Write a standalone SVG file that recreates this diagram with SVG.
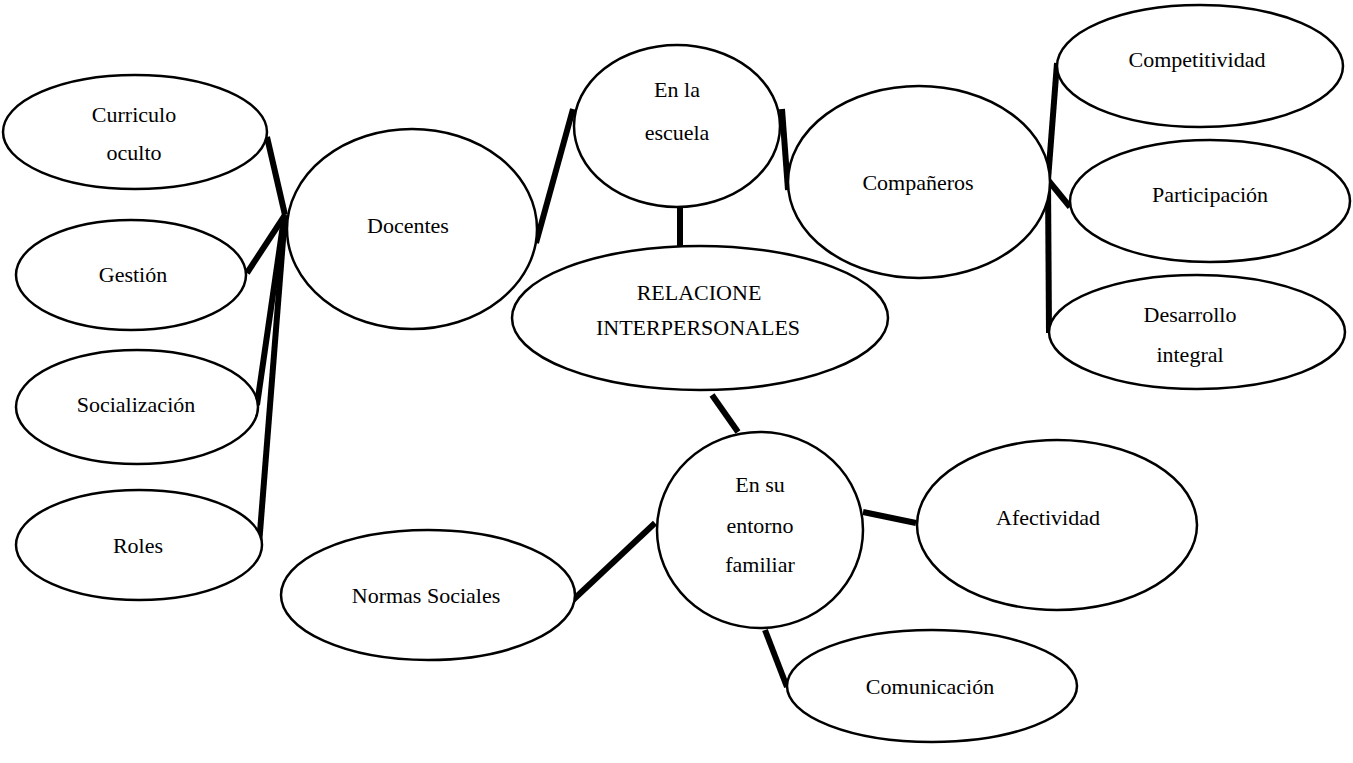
<svg xmlns="http://www.w3.org/2000/svg" width="1353" height="763" viewBox="0 0 1353 763">
<style>
.n{fill:#fff;stroke:#000;stroke-width:2.5}
.t{font-family:"Liberation Serif","Times New Roman",serif;font-size:22px;fill:#000;text-anchor:middle}
.c{stroke:#000;stroke-width:6;fill:none;stroke-linecap:butt}
</style>
<rect width="1353" height="763" fill="#fff"/>
<g id="connectors">
<line class="c" x1="267" y1="137" x2="285" y2="215"/>
<line class="c" x1="247" y1="273" x2="285" y2="215"/>
<line class="c" x1="257" y1="405" x2="284" y2="218"/>
<line class="c" x1="259" y1="545" x2="285" y2="215"/>
<line class="c" x1="536" y1="243" x2="573" y2="109"/>
<line class="c" x1="782" y1="109" x2="788" y2="190"/>
<line class="c" x1="680" y1="207" x2="680" y2="248"/>
<line class="c" x1="1057" y1="63" x2="1048" y2="180"/>
<line class="c" x1="1048" y1="180" x2="1049" y2="333"/>
<line class="c" x1="1048" y1="180" x2="1070" y2="207"/>
<line class="c" x1="712" y1="395" x2="738" y2="432"/>
<line class="c" x1="655" y1="523" x2="573" y2="600"/>
<line class="c" x1="863" y1="512" x2="916" y2="523"/>
<line class="c" x1="765" y1="630" x2="787" y2="687"/>
</g>
<g id="curriculo"><ellipse class="n" cx="135" cy="132" rx="132" ry="57"/><text class="t" x="134" y="122">Curriculo</text><text class="t" x="134" y="160">oculto</text></g>
<g id="gestion"><ellipse class="n" cx="131" cy="275" rx="115" ry="55"/><text class="t" x="133" y="282">Gestión</text></g>
<g id="socializacion"><ellipse class="n" cx="137" cy="407" rx="121" ry="57"/><text class="t" x="136" y="412">Socialización</text></g>
<g id="roles"><ellipse class="n" cx="139" cy="545" rx="123" ry="55"/><text class="t" x="138" y="553">Roles</text></g>
<g id="docentes"><ellipse class="n" cx="412" cy="229" rx="125" ry="100"/><text class="t" x="408" y="233">Docentes</text></g>
<g id="escuela"><ellipse class="n" cx="677" cy="126" rx="103" ry="81"/><text class="t" x="677" y="97">En la</text><text class="t" x="677" y="140">escuela</text></g>
<g id="companeros"><ellipse class="n" cx="919" cy="182" rx="131" ry="96"/><text class="t" x="918" y="190">Compañeros</text></g>
<g id="relaciones"><ellipse class="n" cx="700" cy="318" rx="188" ry="72"/><text class="t" x="699" y="300">RELACIONE</text><text class="t" x="698" y="335">INTERPERSONALES</text></g>
<g id="competitividad"><ellipse class="n" cx="1200" cy="66" rx="143" ry="61"/><text class="t" x="1197" y="67">Competitividad</text></g>
<g id="participacion"><ellipse class="n" cx="1210" cy="201" rx="140" ry="61"/><text class="t" x="1210" y="202">Participación</text></g>
<g id="desarrollo"><ellipse class="n" cx="1197" cy="332" rx="148" ry="57"/><text class="t" x="1190" y="322">Desarrollo</text><text class="t" x="1190" y="362">integral</text></g>
<g id="entorno"><ellipse class="n" cx="760" cy="530" rx="103" ry="98"/><text class="t" x="760" y="492">En su</text><text class="t" x="760" y="533">entorno</text><text class="t" x="760" y="572">familiar</text></g>
<g id="afectividad"><ellipse class="n" cx="1057" cy="525" rx="140" ry="85"/><text class="t" x="1048" y="525">Afectividad</text></g>
<g id="normas"><ellipse class="n" cx="428" cy="595" rx="147" ry="65"/><text class="t" x="426" y="603">Normas Sociales</text></g>
<g id="comunicacion"><ellipse class="n" cx="932" cy="686" rx="145" ry="56"/><text class="t" x="930" y="694">Comunicación</text></g>
</svg>
